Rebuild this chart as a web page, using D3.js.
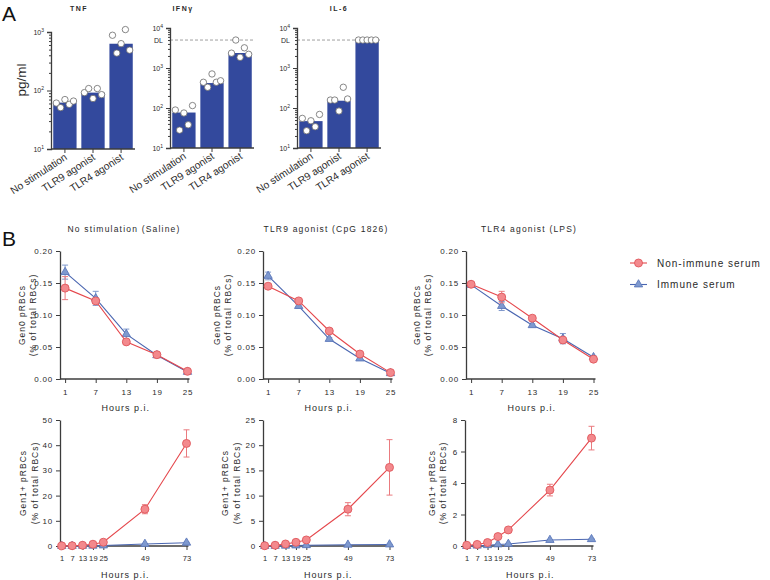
<!DOCTYPE html>
<html><head><meta charset="utf-8">
<script src="https://cdn.jsdelivr.net/npm/d3@7"></script>
<style>
body{margin:0;background:#fff;}
svg{display:block;font-family:"Liberation Sans",Arial,sans-serif;}
</style></head><body>
<svg id="c" width="770" height="580"></svg>
<script>
// ---------------- DATA ----------------
const cytoCategories = ["No stimulation", "TLR9 agonist", "TLR4 agonist"];
const cytokines = ["TNF", "IFNγ", "IL-6"];
const detectionLimit = 5000;

const tnfBars = [62, 92, 630];
const tnfPoints = [[61, 51, 70, 58, 66], [92, 108, 73, 108, 85], [880, 436, 632, 1100, 490]];
const ifngBars = [77, 420, 2370];
const ifngPoints = [[89, 28, 75, 38, 115], [440, 330, 710, 440, 480], [2350, 5000, 1850, 3200, 2200]];
const il6Bars = [47, 152, 4850];
const il6Points = [[55, 27, 48, 34, 69], [158, 158, 84, 330, 168], [5000, 5000, 5000, 5000, 5000]];

const conditions = ["No stimulation (Saline)", "TLR9 agonist (CpG 1826)", "TLR4 agonist (LPS)"];
const seriesNames = ["Non-immune serum", "Immune serum"];
const hoursGen0 = [1, 7, 13, 19, 25];
const hoursGen1 = [1, 7, 13, 19, 25, 49, 73];

// Gen0 (% of total RBCs)
const gen0SalineNon = [0.142, 0.122, 0.058, 0.038, 0.012];
const gen0SalineNonErr = [0.018, 0.004, 0.003, 0.002, 0.002];
const gen0SalineImm = [0.167, 0.126, 0.070, 0.037, 0.011];
const gen0SalineImmErr = [0.011, 0.011, 0.008, 0.002, 0.001];
const gen0CpgNon = [0.145, 0.122, 0.075, 0.039, 0.010];
const gen0CpgNonErr = [0.002, 0.003, 0.002, 0.002, 0.001];
const gen0CpgImm = [0.161, 0.114, 0.0625, 0.032, 0.009];
const gen0CpgImmErr = [0.006, 0.003, 0.002, 0.002, 0.001];
const gen0LpsNon = [0.148, 0.128, 0.095, 0.061, 0.031];
const gen0LpsNonErr = [0.003, 0.009, 0.002, 0.002, 0.002];
const gen0LpsImm = [0.147, 0.114, 0.084, 0.063, 0.034];
const gen0LpsImmErr = [0.003, 0.007, 0.002, 0.008, 0.002];

// Gen1+ (% of total RBCs)
const gen1SalineNon = [0.05, 0.1, 0.3, 0.7, 1.5, 14.6, 40.7];
const gen1SalineNonErr = [0, 0, 0.1, 0.1, 0.3, 1.8, 5.4];
const gen1SalineImm = [0.0, 0.02, 0.05, 0.1, 0.2, 0.8, 1.3];
const gen1SalineImmErr = [0, 0, 0, 0, 0.05, 0.1, 0.2];
const gen1CpgNon = [0.05, 0.15, 0.4, 0.73, 1.2, 7.3, 15.6];
const gen1CpgNonErr = [0, 0, 0.05, 0.1, 0.1, 1.3, 5.5];
const gen1CpgImm = [0.0, 0.02, 0.05, 0.1, 0.15, 0.25, 0.3];
const gen1CpgImmErr = [0, 0, 0, 0, 0.02, 0.05, 0.05];
const gen1LpsNon = [0.05, 0.1, 0.22, 0.6, 1.02, 3.55, 6.85];
const gen1LpsNonErr = [0, 0, 0.03, 0.05, 0.05, 0.37, 0.75];
const gen1LpsImm = [0.0, 0.02, 0.05, 0.1, 0.13, 0.38, 0.43];
const gen1LpsImmErr = [0, 0, 0, 0.01, 0.02, 0.03, 0.03];

const gen0Ticks = [0, 0.05, 0.10, 0.15, 0.20];
const gen1TicksSaline = [0, 10, 20, 30, 40, 50];
const gen1TicksCpg = [0, 5, 10, 15, 20, 25];
const gen1TicksLps = [0, 2, 4, 6, 8];

// ---------------- STYLE ----------------
const svg = d3.select("#c");
const AX = "#3c3c3c";
const TXT = "#2a2a2a";
const BAR = "#33499d";
const RED_LINE = "#e5474c", RED_FILL = "#f3898d", RED_STROKE = "#e0585c", RED_ERR = "#ea7b7f";
const BLUE_LINE = "#4a66b1", BLUE_FILL = "#7e99cf", BLUE_STROKE = "#5b77ba", BLUE_ERR = "#7f98cc";

// panel letters
svg.append("text").attr("x", 2).attr("y", 21).attr("font-size", 21).attr("fill", "#111").text("A");
svg.append("text").attr("x", 2).attr("y", 246).attr("font-size", 21).attr("fill", "#111").text("B");

// ---------------- PANEL A ----------------
function styleAxis(g) {
  g.selectAll("path.domain").attr("stroke", AX).attr("stroke-width", 1.3);
  g.selectAll(".tick line").attr("stroke", AX).attr("stroke-width", 1);
}

function barChart(cfg) {
  const g = svg.append("g");
  const xs = d3.scaleBand().domain(cytoCategories).range([cfg.x0, cfg.x0 + 84])
    .paddingInner(0.17).paddingOuter(0.08);
  const ys = d3.scaleLog().domain(cfg.domain).range([cfg.yBot, cfg.yTop]);

  g.selectAll("rect.bar").data(cfg.bars).join("rect").attr("class", "bar")
    .attr("x", (d, i) => xs(cytoCategories[i]))
    .attr("width", xs.bandwidth())
    .attr("y", d => ys(d))
    .attr("height", d => cfg.yBot - ys(d))
    .attr("fill", BAR);

  if (cfg.dl) {
    g.append("line").attr("x1", cfg.x0).attr("x2", cfg.x0 + 84)
      .attr("y1", ys(detectionLimit)).attr("y2", ys(detectionLimit))
      .attr("stroke", "#888").attr("stroke-width", 0.8).attr("stroke-dasharray", "3,2");
    g.append("text").attr("x", cfg.x0 - 7).attr("y", ys(detectionLimit) + 2.5)
      .attr("text-anchor", "end").attr("font-size", 7).attr("fill", TXT).text("DL");
  }

  cfg.points.forEach((arr, i) => {
    const cx = xs(cytoCategories[i]) + xs.bandwidth() / 2;
    g.selectAll(null).data(arr).join("circle")
      .attr("cx", (d, j) => cx + (j - 2) * 4.3)
      .attr("cy", d => ys(d))
      .attr("r", 3.2)
      .attr("fill", "#fff").attr("stroke", "#6a6a6a").attr("stroke-width", 0.8);
  });

  const tv = ys.ticks();
  const ya = g.append("g").attr("transform", `translate(${cfg.x0},0)`)
    .call(d3.axisLeft(ys).tickValues(tv).tickFormat("").tickSizeOuter(0).tickSize(4));
  styleAxis(ya);
  ya.selectAll(".tick line").attr("x2", d => {
    const l = Math.log10(d);
    return Math.abs(l - Math.round(l)) < 1e-9 ? -4 : -2;
  });
  const majors = tv.filter(d => Math.abs(Math.log10(d) - Math.round(Math.log10(d))) < 1e-9);
  majors.forEach(d => {
    const t = g.append("text").attr("x", cfg.x0 - 7).attr("y", ys(d) + 2.5)
      .attr("text-anchor", "end").attr("font-size", 7).attr("fill", TXT);
    t.append("tspan").text("10");
    t.append("tspan").attr("dy", -3).attr("font-size", 5).text(String(Math.round(Math.log10(d))));
  });

  const xa = g.append("g").attr("transform", `translate(0,${cfg.yBot})`)
    .call(d3.axisBottom(xs).tickSize(4).tickSizeOuter(0).tickFormat(""));
  xa.select("path.domain").attr("d", `M${cfg.x0},0H${cfg.x0 + 84}`);
  styleAxis(xa);
  cytoCategories.forEach(c => {
    const cx = xs(c) + xs.bandwidth() / 2;
    g.append("text").attr("transform", `translate(${cx + 3},${cfg.yBot + 10}) rotate(-33)`)
      .attr("text-anchor", "end").attr("font-size", 10.3).attr("fill", TXT).text(c);
  });

  g.append("text").attr("x", cfg.titleX).attr("y", 10.5).attr("text-anchor", "middle")
    .attr("font-size", 7).attr("font-weight", "bold").style("letter-spacing", "1.5px")
    .attr("fill", TXT).text(cfg.title);
}

barChart({x0: 51, yTop: 32, yBot: 149, domain: [10, 1000], bars: tnfBars, points: tnfPoints, title: cytokines[0], titleX: 79, dl: false});
barChart({x0: 170, yTop: 28, yBot: 148, domain: [10, 10000], bars: ifngBars, points: ifngPoints, title: cytokines[1], titleX: 183, dl: true});
barChart({x0: 297, yTop: 28, yBot: 148, domain: [10, 10000], bars: il6Bars, points: il6Points, title: cytokines[2], titleX: 339, dl: true});

svg.append("text").attr("transform", "translate(26,80) rotate(-90)").attr("text-anchor", "middle")
  .attr("font-size", 13.5).attr("fill", TXT).text("pg/ml");

// ---------------- PANEL B ----------------
function lineChart(cfg) {
  const g = svg.append("g");
  const xs = d3.scaleLinear().domain([0, cfg.xMax]).range([cfg.axisX, cfg.axisX + cfg.w]);
  const ys = d3.scaleLinear().domain([0, cfg.yMax]).range([cfg.yBot, cfg.yTop]);
  const ls = "0.8px";

  const ya = g.append("g").attr("transform", `translate(${cfg.axisX},0)`)
    .call(d3.axisLeft(ys).tickValues(cfg.yTicks).tickFormat(cfg.yFmt).tickSize(4).tickSizeOuter(0).tickPadding(3));
  styleAxis(ya);
  ya.selectAll("text").attr("font-size", 8).attr("fill", TXT).style("letter-spacing", ls).attr("font-family", null);

  const xa = g.append("g").attr("transform", `translate(0,${cfg.yBot})`)
    .call(d3.axisBottom(xs).tickValues(cfg.hours).tickFormat(d3.format("d")).tickSize(4).tickSizeOuter(0).tickPadding(6));
  xa.select("path.domain").attr("d", `M${cfg.axisX},0H${xs(cfg.hours[cfg.hours.length - 1]) + 2}`);
  styleAxis(xa);
  xa.selectAll("text").attr("font-size", cfg.xFont).attr("fill", TXT).style("letter-spacing", cfg.xLs).attr("font-family", null);

  g.append("text").attr("x", xs(cfg.hours[cfg.hours.length - 1]) / 2 + cfg.axisX / 2 + 2)
    .attr("y", cfg.yBot + 32).attr("text-anchor", "middle").attr("font-size", 9)
    .style("letter-spacing", "1px").attr("fill", TXT).text("Hours p.i.");

  const ym = (cfg.yTop + cfg.yBot) / 2;
  g.append("text").attr("transform", `translate(${cfg.lab[0] + 3},${ym}) rotate(-90)`)
    .attr("text-anchor", "middle").attr("font-size", 8.5).style("letter-spacing", "1px").attr("fill", TXT).text(cfg.ylab1);
  g.append("text").attr("transform", `translate(${cfg.lab[1] + 3},${ym}) rotate(-90)`)
    .attr("text-anchor", "middle").attr("font-size", 8.5).style("letter-spacing", "1px").attr("fill", TXT).text("(% of total RBCs)");

  if (cfg.title) {
    g.append("text").attr("x", cfg.titleX).attr("y", 232).attr("text-anchor", "middle")
      .attr("font-size", 8.5).style("letter-spacing", "1.2px").attr("fill", TXT).text(cfg.title);
  }

  const line = d3.line().x(d => xs(d[0])).y(d => ys(d[1]));
  function drawSeries(vals, errs, lineC, errC, fillC, strokeC, type) {
    const pts = cfg.hours.map((h, i) => [h, vals[i], errs[i]]);
    g.append("path").datum(pts).attr("d", line).attr("fill", "none").attr("stroke", lineC).attr("stroke-width", 1.1);
    pts.forEach(p => {
      if (p[2] > 0) {
        const y1 = ys(p[1] + p[2]), y2 = ys(Math.max(0, p[1] - p[2])), x = xs(p[0]);
        g.append("path").attr("d", `M${x - 3},${y1}H${x + 3}M${x},${y1}V${y2}M${x - 3},${y2}H${x + 3}`)
          .attr("stroke", errC).attr("stroke-width", 1).attr("fill", "none");
      }
    });
    if (type === "circle") {
      g.selectAll(null).data(pts).join("circle").attr("cx", d => xs(d[0])).attr("cy", d => ys(d[1]))
        .attr("r", 4).attr("fill", fillC).attr("stroke", strokeC).attr("stroke-width", 0.9);
    } else {
      g.selectAll(null).data(pts).join("path")
        .attr("transform", d => `translate(${xs(d[0])},${ys(d[1])})`)
        .attr("d", d3.symbol(d3.symbolTriangle, 30)())
        .attr("fill", fillC).attr("stroke", strokeC).attr("stroke-width", 0.9);
    }
  }
  drawSeries(cfg.imm, cfg.immErr, BLUE_LINE, BLUE_ERR, BLUE_FILL, BLUE_STROKE, "tri");
  drawSeries(cfg.non, cfg.nonErr, RED_LINE, RED_ERR, RED_FILL, RED_STROKE, "circle");
}

const f2 = d3.format(".2f"), fd = d3.format("d");
const topRowCfg = {xMax: 25, w: 127.5, yMax: 0.2, yTop: 251, yBot: 379, yTicks: gen0Ticks, yFmt: f2, hours: hoursGen0, ylab1: "Gen0 pRBCs", xFont: 8, xLs: "0.8px"};
const botRowCfg = {xMax: 73, w: 126.5, yTop: 420, yBot: 546, yFmt: fd, hours: hoursGen1, ylab1: "Gen1+ pRBCs", xFont: 7.5, xLs: "0.2px"};

lineChart({...topRowCfg, axisX: 60, lab: [22, 33], title: conditions[0], titleX: 124,
  non: gen0SalineNon, nonErr: gen0SalineNonErr, imm: gen0SalineImm, immErr: gen0SalineImmErr});
lineChart({...topRowCfg, axisX: 263, lab: [217, 228], title: conditions[1], titleX: 326,
  non: gen0CpgNon, nonErr: gen0CpgNonErr, imm: gen0CpgImm, immErr: gen0CpgImmErr});
lineChart({...topRowCfg, axisX: 466, lab: [417, 428], title: conditions[2], titleX: 529,
  non: gen0LpsNon, nonErr: gen0LpsNonErr, imm: gen0LpsImm, immErr: gen0LpsImmErr});

lineChart({...botRowCfg, axisX: 60, lab: [23, 35], yMax: 50, yTicks: gen1TicksSaline,
  non: gen1SalineNon, nonErr: gen1SalineNonErr, imm: gen1SalineImm, immErr: gen1SalineImmErr});
lineChart({...botRowCfg, axisX: 263, lab: [225, 237], yMax: 25, yTicks: gen1TicksCpg,
  non: gen1CpgNon, nonErr: gen1CpgNonErr, imm: gen1CpgImm, immErr: gen1CpgImmErr});
lineChart({...botRowCfg, axisX: 465, lab: [432, 443], yMax: 8, yTicks: gen1TicksLps,
  non: gen1LpsNon, nonErr: gen1LpsNonErr, imm: gen1LpsImm, immErr: gen1LpsImmErr});

// legend
const leg = svg.append("g");
[[RED_LINE, RED_FILL, RED_STROKE, "circle"], [BLUE_LINE, BLUE_FILL, BLUE_STROKE, "tri"]].forEach((s, i) => {
  const y = 263 + i * 21.5;
  leg.append("line").attr("x1", 630).attr("x2", 647).attr("y1", y).attr("y2", y).attr("stroke", s[0]).attr("stroke-width", 1.1);
  if (s[3] === "circle") {
    leg.append("circle").attr("cx", 638.5).attr("cy", y).attr("r", 4).attr("fill", s[1]).attr("stroke", s[2]).attr("stroke-width", 0.9);
  } else {
    leg.append("path").attr("transform", `translate(638.5,${y})`).attr("d", d3.symbol(d3.symbolTriangle, 30)())
      .attr("fill", s[1]).attr("stroke", s[2]).attr("stroke-width", 0.9);
  }
  leg.append("text").attr("x", 657).attr("y", y + 3.5).attr("font-size", 10).style("letter-spacing", "1px")
    .attr("fill", TXT).text(seriesNames[i]);
});
</script>
</body></html>
